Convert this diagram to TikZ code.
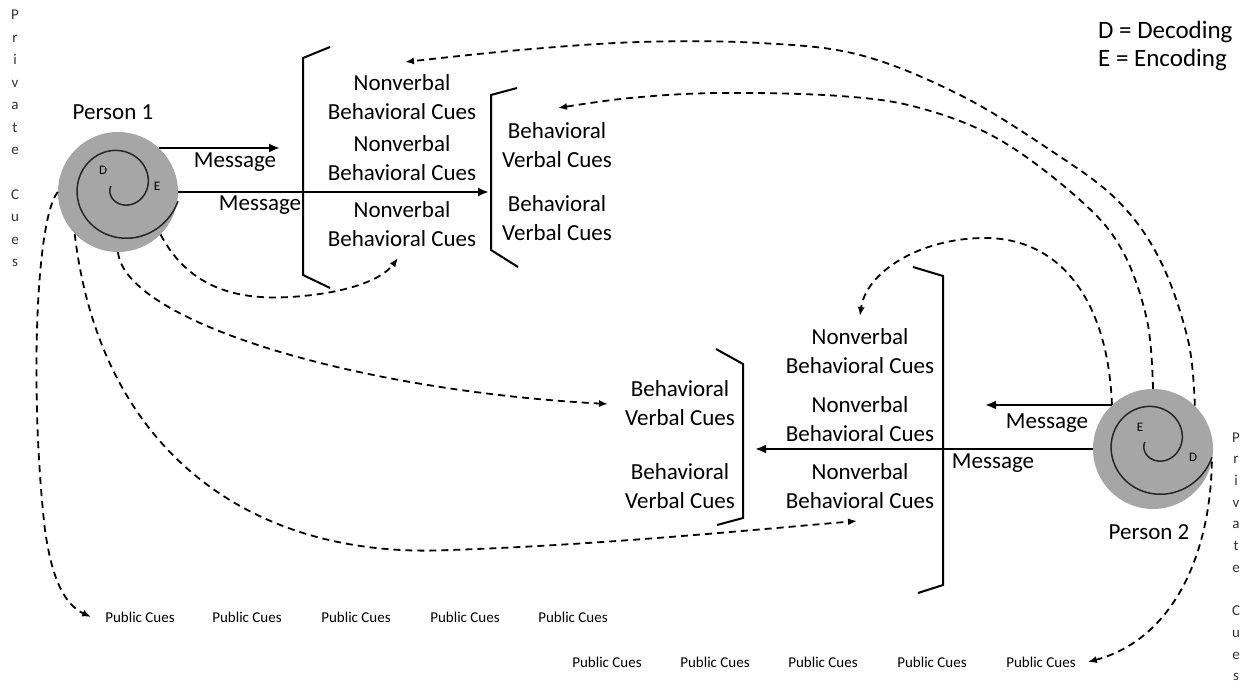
\documentclass[tikz,border=0pt]{standalone}
\usepackage{fontspec}
\setmainfont{Carlito}
\usetikzlibrary{arrows.meta}
\definecolor{discgray}{RGB}{166,166,166}
\begin{document}
\begin{tikzpicture}[x=1pt,y=-1pt,
  cue/.style={align=center,font=\fontsize{23}{28.5}\selectfont,inner sep=0pt},
  msg/.style={font=\fontsize{23}{28}\selectfont,inner sep=0pt},
  legend/.style={font=\fontsize{25}{28}\selectfont,inner sep=0pt,anchor=west},
  pub/.style={font=\fontsize{15}{18}\selectfont,inner sep=0pt},
  vlet/.style={font=\fontsize{15}{18}\selectfont,inner sep=0pt,anchor=base,text=black!80},
  small/.style={font=\fontsize{13}{15}\selectfont,inner sep=0pt},
  disc/.style={circle,fill=discgray,minimum size=120pt,inner sep=0pt},
  bracket/.style={line width=2pt},
  sendarrow/.style={line width=2.6pt,-{Latex[length=11pt,width=9pt]}},
  cuearrow/.style={line width=1.8pt,dash pattern=on 7pt off 5pt,-{Latex[length=9pt,width=7pt]}},
  spiral/.style={line width=1.5pt,black!85}
]
\useasboundingbox (0,0) rectangle (1249,685);

% persons
\node[disc] (p1) at (118,192) {};
\node[disc] (p2) at (1153,449) {};
\draw[spiral] plot[domain=0:525,samples=150,variable=\t]
  ({121+(10+0.0933*\t)*cos(180-\t)},{186+(10+0.0933*\t)*sin(180-\t)});
\draw[spiral] plot[domain=0:525,samples=150,variable=\t]
  ({1155+(10+0.0933*\t)*cos(180-\t)},{442+(10+0.0933*\t)*sin(180-\t)});
\node[small] (d1) at (103,170) {D};
\node[small] (e1) at (157,186) {E};
\node[small] (e2) at (1140,427) {E};
\node[small] (d2) at (1193,457) {D};
\node[msg] (n1) at (113,112) {Person 1};
\node[msg] (n2) at (1149,532) {Person 2};

% legend
\node[legend] (lgd) at (1098,32) {D = Decoding};
\node[legend] (lge) at (1098,60) {E = Encoding};

% private cues columns
\foreach \ch/\k in {P/0,r/1,i/2,v/3,a/4,t/5,e/6,C/8,u/9,e/10,s/11}{
  \node[vlet] (pl\k) at (15,{20+22.4*\k}) {\ch};
  \node[vlet] (pr\k) at (1236,{442+21.7*\k}) {\ch};
}

% public cues rows
\foreach \x [count=\i] in {140,247,356,465,573}
  \node[pub] (pa\i) at (\x,617) {Public Cues};
\foreach \x [count=\i] in {607,715,823,932,1041}
  \node[pub] (pb\i) at (\x,662) {Public Cues};

% brackets
\draw[bracket] (330,47) -- (303,58) -- (303,275) -- (330,288);
\draw[bracket] (517,88) -- (491,95) -- (491,250) -- (518,267);
\draw[bracket] (913,267) -- (943,276) -- (943,585) -- (918,593);
\draw[bracket] (716,349) -- (743,364) -- (743,518) -- (717,525);

% cue blocks
\node[cue] (nb1) at (402,97) {Nonverbal\\Behavioral Cues};
\node[cue] (nb2) at (402,158) {Nonverbal\\Behavioral Cues};
\node[cue] (nb3) at (402,224) {Nonverbal\\Behavioral Cues};
\node[cue] (bv1) at (557,145) {Behavioral\\Verbal Cues};
\node[cue] (bv2) at (557,218) {Behavioral\\Verbal Cues};
\node[cue] (nb4) at (860,351) {Nonverbal\\Behavioral Cues};
\node[cue] (nb5) at (860,419) {Nonverbal\\Behavioral Cues};
\node[cue] (nb6) at (860,486) {Nonverbal\\Behavioral Cues};
\node[cue] (bv3) at (680,403) {Behavioral\\Verbal Cues};
\node[cue] (bv4) at (680,486) {Behavioral\\Verbal Cues};

% message labels
\node[msg] (m1) at (235,162) {Message};
\node[msg] (m2) at (260,205) {Message};
\node[msg] (m3) at (1047,423) {Message};
\node[msg] (m4) at (993,463) {Message};

% message arrow ends
\coordinate (t1) at (280,148);
\coordinate (t2) at (489,192);
\coordinate (t3) at (985,405);
\coordinate (t4) at (755,449);

\draw[sendarrow] (p1.47) -- (p1.47 -| t1);
\draw[sendarrow] (p1.east) -- (p1.east -| t2);
\draw[sendarrow] (p2.133) -- (p2.133 -| t3);
\draw[sendarrow] (p2.west) -- (p2.west -| t4);

% cue arrow ends
\coordinate (c1) at (860,316);
\coordinate (c2) at (558,108);
\coordinate (c3) at (405,62);
\coordinate (c4) at (398,258);
\coordinate (c5) at (608,404);
\coordinate (c6) at (857,521);

% cue arrows from person 2
\draw[cuearrow] (p2.133) .. controls (1108,300) and (1060,238) .. (985,238)
  .. controls (920,238) and (866,272) .. (c1);
\draw[cuearrow] plot[smooth,tension=0.6] coordinates {(p2.north) (1147,320) (1122,250)
  (1080,200) (1000,140) (920,108) (840,96) (720,93) (630,98) (c2)};
\draw[cuearrow] plot[smooth,tension=0.6] coordinates {(p2.46) (1188,340) (1160,260)
  (1117,200) (1050,150) (960,95) (860,55) (760,43) (640,42) (520,50) (c3)};
\draw[cuearrow] (p2.-12) .. controls (1210,560) and (1170,640) .. ([xshift=12pt]pb5.east);

% cue arrows from person 1
\draw[cuearrow] (p1.-45) .. controls (190,290) and (240,300) .. (290,297)
  .. controls (340,294) and (380,282) .. (c4);
\draw[cuearrow] (p1.south) .. controls (125,320) and (350,390) .. (c5);
\draw[cuearrow] (p1.-136) .. controls (100,450) and (250,560) .. (450,550)
  .. controls (600,545) and (750,530) .. (c6);
\draw[cuearrow] (p1.west) .. controls (35,220) and (30,400) .. (45,530)
  .. controls (52,580) and (65,605) .. ([xshift=-14pt]pa1.west);
\end{tikzpicture}
\end{document}
